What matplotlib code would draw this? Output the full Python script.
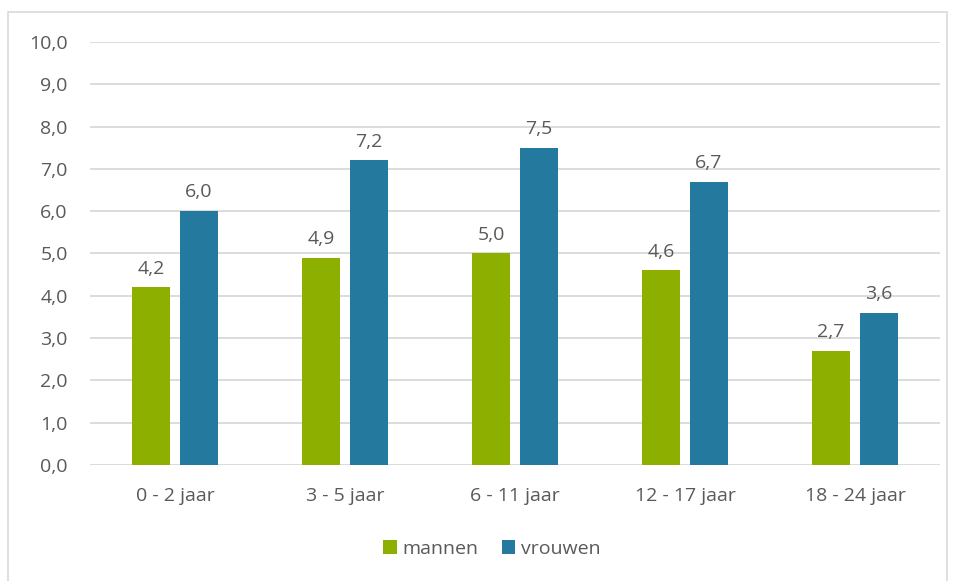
import numpy as np
import matplotlib.pyplot as plt
from matplotlib.patches import Rectangle

plt.rcParams['font.family'] = ['Open Sans', 'DejaVu Sans']

categories = ['0 - 2 jaar', '3 - 5 jaar', '6 - 11 jaar', '12 - 17 jaar', '18 - 24 jaar']
mannen = [4.2, 4.9, 5.0, 4.6, 2.7]
vrouwen = [6.0, 7.2, 7.5, 6.7, 3.6]

green = '#8DB000'
blue = '#247A9E'
txt = '#595959'
grid = '#D9D9D9'

fig = plt.figure(figsize=(9.55, 5.81), dpi=100)
# outer chart border
fig.patches.append(Rectangle((8 / 955, -0.01), 939 / 955, 1 - 12 / 581 + 0.01,
                             transform=fig.transFigure, fill=False,
                             edgecolor=grid, linewidth=1.2))

ax = fig.add_axes([90 / 955, 1 - 465 / 581, 850 / 955, 423 / 581])
x = np.arange(len(categories))
w = 0.2235
off = 0.141
b1 = ax.bar(x - off, mannen, w, color=green, label='mannen', zorder=3)
b2 = ax.bar(x + off, vrouwen, w, color=blue, label='vrouwen', zorder=3)

for bars, vals in ((b1, mannen), (b2, vrouwen)):
    for r, v in zip(bars, vals):
        ax.annotate(f'{v:.1f}'.replace('.', ','), (r.get_x() + r.get_width() / 2, v),
                    xytext=(0, 7), textcoords='offset points', ha='center',
                    va='bottom', fontsize=14, color=txt)

ax.set_xlim(-0.5, 4.5)
ax.set_ylim(0, 10)
ax.set_yticks(np.arange(0, 11, 1))
ax.set_yticklabels([f'{v:.1f}'.replace('.', ',') for v in range(11)])
ax.set_xticks(x)
ax.set_xticklabels(categories)
ax.tick_params(length=0, labelsize=14, colors=txt)
ax.tick_params(axis='y', pad=16)
ax.tick_params(axis='x', pad=16)
ax.grid(axis='y', color=grid, linewidth=1.3, zorder=0)
for s in ax.spines.values():
    s.set_visible(False)

fig.legend(loc='center', bbox_to_anchor=(492 / 955, 1 - 549 / 581), ncol=2,
           frameon=False, fontsize=14, labelcolor=txt, handlelength=0.7,
           handleheight=0.7, handletextpad=0.3, columnspacing=1.2)

fig.savefig('out.png', dpi=100)
